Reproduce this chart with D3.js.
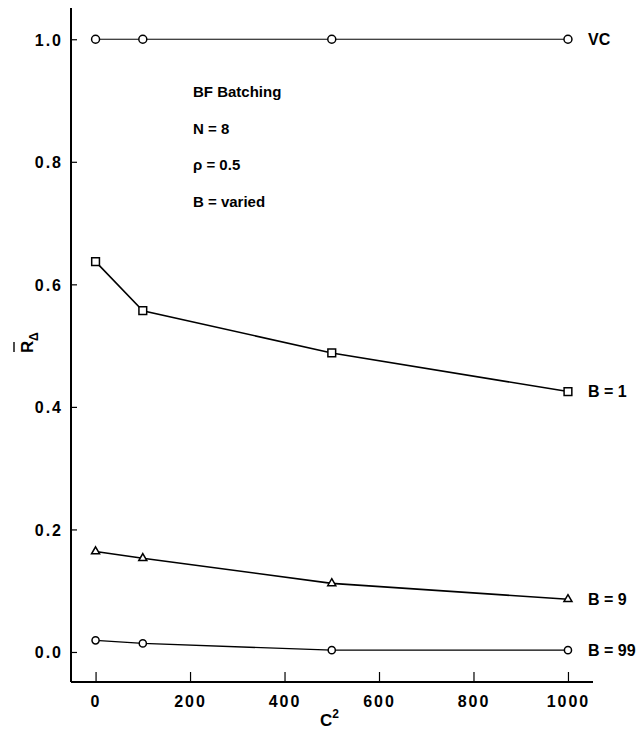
<!DOCTYPE html>
<html>
<head>
<meta charset="utf-8">
<script src="https://cdn.jsdelivr.net/npm/d3@7"></script>
<style>
  body { margin: 0; background: #fff; }
  text { font-family: "Liberation Sans", Arial, sans-serif; fill: #000; font-weight: bold; }
</style>
</head>
<body>
<svg id="chart"></svg>
<script>
// data
const cSquared = [0, 100, 500, 1000];
const vcValues = [1.0, 1.0, 1.0, 1.0];
const b1Values = [0.637, 0.557, 0.488, 0.425];
const b9Values = [0.164, 0.153, 0.112, 0.086];
const b99Values = [0.019, 0.014, 0.003, 0.003];
const xTicks = [0, 200, 400, 600, 800, 1000];
const yTicks = [0.0, 0.2, 0.4, 0.6, 0.8, 1.0];
const notes = ["BF Batching", "N = 8", "ρ = 0.5", "B = varied"];

const series = [
  { name: "VC", values: vcValues, symbol: d3.symbolCircle, size: 50, width: 1 },
  { name: "B = 1", values: b1Values, symbol: d3.symbolSquare, size: 60, width: 1.6 },
  { name: "B = 9", values: b9Values, symbol: d3.symbolTriangle, size: 28, width: 1.6 },
  { name: "B = 99", values: b99Values, symbol: d3.symbolCircle, size: 40, width: 1.4 }
];

const w = 640, h = 729;
const svg = d3.select("#chart").attr("width", w).attr("height", h);

// scales
const x = d3.scaleLinear().domain([-52, 1053]).range([71, 593]);
const y = d3.scaleLinear().domain([-0.049, 1.051]).range([682, 8]);

// axes
const xAxis = d3.axisBottom(x).tickValues(xTicks).tickSize(-10).tickFormat(d3.format("d"));
const yAxis = d3.axisLeft(y).tickValues(yTicks).tickSize(-6).tickFormat(d3.format(".1f"));

const gx = svg.append("g").attr("transform", `translate(0,682)`).call(xAxis);
const gy = svg.append("g").attr("transform", `translate(71,0)`).call(yAxis);

[gx, gy].forEach(g => {
  g.select(".domain").attr("stroke", "#000").attr("stroke-width", 2);
  g.selectAll(".tick line").attr("stroke", "#000").attr("stroke-width", 1.2);
  g.selectAll(".tick text")
    .style("font-family", "'Liberation Sans', Arial, sans-serif")
    .style("font-size", "16px")
    .style("font-weight", "bold")
    .style("letter-spacing", "2px")
    .attr("fill", "#000");
});
gx.select(".domain").attr("d", `M71,0H593`);
gy.select(".domain").attr("d", `M0,8V682`);
gx.selectAll(".tick text").attr("y", 14).attr("dy", "0.71em");
gy.selectAll(".tick text").attr("x", -8).attr("dy", "0.36em");

// lines and markers
const line = d3.line().x((d, i) => x(cSquared[i])).y(d => y(d));

series.forEach(s => {
  svg.append("path")
    .datum(s.values)
    .attr("d", line)
    .attr("fill", "none")
    .attr("stroke", "#000")
    .attr("stroke-width", s.width);

  svg.selectAll(null)
    .data(s.values)
    .join("path")
    .attr("transform", (d, i) => `translate(${x(cSquared[i])},${y(d)})`)
    .attr("d", d3.symbol().type(s.symbol).size(s.size))
    .attr("fill", "#fff")
    .attr("stroke", "#000")
    .attr("stroke-width", 1.5);

  svg.append("text")
    .attr("x", x(cSquared[cSquared.length - 1]) + 20)
    .attr("y", y(s.values[s.values.length - 1]))
    .attr("dy", "0.36em")
    .style("font-size", "16px")
    .text(s.name);
});

// annotation block
svg.append("g")
  .selectAll("text")
  .data(notes)
  .join("text")
  .attr("x", 193)
  .attr("y", (d, i) => 97 + i * 36.7)
  .style("font-size", "15px")
  .text(d => d);

// axis titles
const xl = svg.append("text")
  .attr("x", 320)
  .attr("y", 726)
  .style("font-size", "17px");
xl.append("tspan").text("C");
xl.append("tspan").attr("dy", -8).style("font-size", "12px").text("2");

const yl = svg.append("g").attr("transform", "translate(33,353) rotate(-90)");
yl.append("text").attr("x", 0).attr("y", 0).style("font-size", "17px").text("R");
yl.append("line")
  .attr("x1", 1).attr("x2", 11)
  .attr("y1", -19).attr("y2", -19)
  .attr("stroke", "#000").attr("stroke-width", 1.4);
yl.append("text").attr("x", 12).attr("y", 5).style("font-size", "12px").text("Δ");
</script>
</body>
</html>
